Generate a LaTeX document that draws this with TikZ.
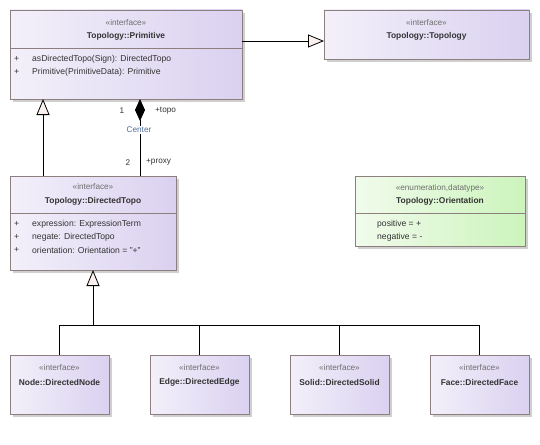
\documentclass[tikz,border=0pt]{standalone}
\usepackage{fontspec}
\setmainfont{Liberation Sans}
\usetikzlibrary{arrows.meta}

\definecolor{lavL}{HTML}{F3F0FA}
\definecolor{lavR}{HTML}{DAD1F0}
\definecolor{grnL}{HTML}{F1FBEC}
\definecolor{grnR}{HTML}{CCF4BC}
\definecolor{framec}{HTML}{8E7F7F}
\definecolor{shadowc}{HTML}{CFCFCF}
\definecolor{stereoc}{HTML}{6E6E6E}
\definecolor{txtc}{HTML}{333333}
\definecolor{headc}{HTML}{FBF1EF}
\definecolor{assocc}{HTML}{4F6E9A}

\tikzset{
  cls/.style={draw=framec, line width=0.8pt, left color=lavL, right color=lavR,
              anchor=north west, inner sep=0pt, outer sep=0pt},
  enumcls/.style={cls, left color=grnL, right color=grnR},
  boxshadow/.style={fill=shadowc},
  stereotxt/.style={font=\fontsize{8.2}{9}\selectfont, text=stereoc, inner sep=0pt},
  nametxt/.style={font=\fontsize{8.4}{9}\selectfont\bfseries, text=txtc, inner sep=0pt},
  membertxt/.style={font=\fontsize{8.6}{9}\selectfont, text=txtc, anchor=west, inner sep=0pt},
  divider/.style={draw=framec, line width=0.8pt},
  roletxt/.style={font=\fontsize{8.2}{9}\selectfont, text=txtc, inner sep=1pt},
  gen/.style={draw=black, line width=0.8pt,
              -{Triangle[length=16pt,width=13pt,fill=headc]}},
  link/.style={draw=black, line width=0.8pt},
}

\begin{document}
\begin{tikzpicture}[x=1pt,y=-1pt]
\useasboundingbox[fill=white] (0,0) rectangle (540,444);

% ---- Topology::Primitive
\fill[boxshadow] (13,13) rectangle (245,102);
\node[cls, minimum width=232pt, minimum height=89pt] (prim) at (10,10) {};
\draw[divider] (10,48) -- (242,48);
\node[stereotxt] (primS) at (126,23) {«interface»};
\node[nametxt] (primN) at (126,36) {Topology::Primitive};
\node[membertxt] (primP1) at (14,59) {+};
\node[membertxt] (primM1) at (32,59) {asDirectedTopo(Sign): DirectedTopo};
\node[membertxt] (primP2) at (14,72) {+};
\node[membertxt] (primM2) at (32,72) {Primitive(PrimitiveData): Primitive};

% ---- Topology::Topology
\fill[boxshadow] (327,13) rectangle (532,62);
\node[cls, minimum width=205pt, minimum height=49pt] (topo) at (324,10) {};
\node[stereotxt] (topoS) at (426.5,23) {«interface»};
\node[nametxt] (topoN) at (426.5,36) {Topology::Topology};

% ---- Topology::DirectedTopo
\fill[boxshadow] (13,179) rectangle (179,273);
\node[cls, minimum width=166pt, minimum height=94pt] (dt) at (10,176) {};
\draw[divider] (10,213) -- (176,213);
\node[stereotxt] (dtS) at (93,187) {«interface»};
\node[nametxt] (dtN) at (93,201) {Topology::DirectedTopo};
\node[membertxt] (dtP1) at (14,224) {+};
\node[membertxt] (dtM1) at (32,224) {expression: ExpressionTerm};
\node[membertxt] (dtP2) at (14,237) {+};
\node[membertxt] (dtM2) at (32,237) {negate: DirectedTopo};
\node[membertxt] (dtP3) at (14,250) {+};
\node[membertxt] (dtM3) at (32,250) {orientation: Orientation = "+"};

% ---- Topology::Orientation
\fill[boxshadow] (358,179) rectangle (528,249);
\node[enumcls, minimum width=170pt, minimum height=70pt] (ori) at (355,176) {};
\draw[divider] (355,213) -- (525,213);
\node[stereotxt] (oriS) at (440,188) {«enumeration,datatype»};
\node[nametxt] (oriN) at (440,201) {Topology::Orientation};
\node[membertxt] (oriM1) at (377,224) {positive = +};
\node[membertxt] (oriM2) at (377,237) {negative = -};

% ---- leaf interfaces
\foreach \nm/\xx/\ttl in {dnode/10/Node::DirectedNode, dedge/150/Edge::DirectedEdge,
                          dsolid/290/Solid::DirectedSolid, dface/430/Face::DirectedFace}{
  \fill[boxshadow] (\xx+3,358) rectangle (\xx+102,417);
  \node[cls, minimum width=99pt, minimum height=59pt] (\nm) at (\xx,355) {};
  \node[stereotxt] (\nm S) at (\xx+49.5,368) {«interface»};
  \node[nametxt] (\nm N) at (\xx+49.5,382) {\ttl};
}

% ---- Primitive realises Topology
\draw[gen] (prim.east |- 0,41) -- (topo.west |- 0,41);

% ---- DirectedTopo specialises Primitive
\draw[gen] (dt.north -| 43,0) -- (prim.south -| 43,0);

% ---- composition Primitive <>-- DirectedTopo
\draw[link, {Diamond[length=22pt,width=10pt,fill=black]}-]
  (prim.south -| 140,0) -- (dt.north -| 140,0);
\node[roletxt, text=assocc, fill=white] (assocName) at (139,130) {Center};
\node[roletxt] (mulTop) at (122,111) {1};
\node[roletxt, anchor=west] (roleTop) at (154,111) {+topo};
\node[roletxt] (mulBot) at (128,163) {2};
\node[roletxt, anchor=west] (roleBot) at (145,162) {+proxy};

% ---- leaves specialise DirectedTopo
\coordinate (junc) at (93,325);
\foreach \nm in {dnode,dedge,dsolid,dface}{
  \draw[link] (\nm.north) |- (junc);
}
\draw[gen] (junc) -- (dt.south);

\end{tikzpicture}
\end{document}
